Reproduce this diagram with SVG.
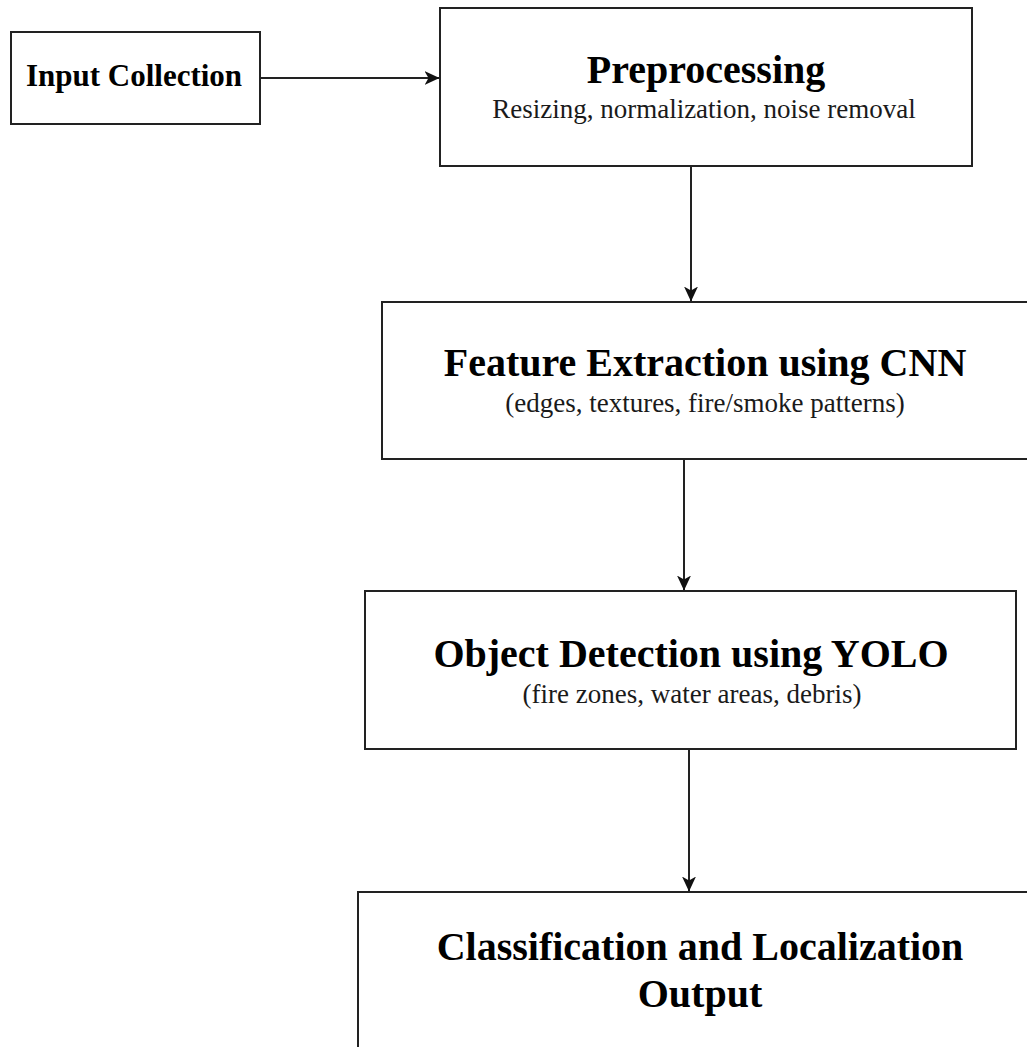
<svg xmlns="http://www.w3.org/2000/svg" width="1027" height="1047" viewBox="0 0 1027 1047">
  <style>
    .box { fill: #ffffff; stroke: #222222; stroke-width: 2; }
    .title { font-family: "Liberation Serif", "Times New Roman", serif; font-weight: bold; font-size: 40px; fill: #000000; text-anchor: middle; }
    .small-title { font-family: "Liberation Serif", "Times New Roman", serif; font-weight: bold; font-size: 31px; fill: #000000; text-anchor: middle; }
    .sub { font-family: "Liberation Serif", "Times New Roman", serif; font-size: 27px; fill: #1a1a1a; text-anchor: middle; }
    .edge { fill: none; stroke: #222222; stroke-width: 2; }
  </style>
  <defs>
    <marker id="arrow" viewBox="0 0 15 14" refX="14.5" refY="7" markerWidth="15" markerHeight="14" markerUnits="userSpaceOnUse" orient="auto">
      <path d="M0,0 L15,7 L0,14 L4,7 Z" fill="#111111"/>
    </marker>
  </defs>
  <rect width="1027" height="1047" fill="#ffffff"/>

  <g id="connectors">
    <line class="edge" x1="260" y1="78" x2="439" y2="78" marker-end="url(#arrow)"/>
    <line class="edge" x1="691" y1="166" x2="691" y2="301" marker-end="url(#arrow)"/>
    <line class="edge" x1="684" y1="459" x2="684" y2="590" marker-end="url(#arrow)"/>
    <line class="edge" x1="689" y1="749" x2="689" y2="891" marker-end="url(#arrow)"/>
  </g>

  <g id="node-input">
    <rect class="box" x="11" y="32" width="249" height="92"/>
    <text class="small-title" x="134" y="86">Input Collection</text>
  </g>

  <g id="node-preprocessing">
    <rect class="box" x="440" y="8" width="532" height="158"/>
    <text class="title" x="706" y="83">Preprocessing</text>
    <text class="sub" x="704" y="118">Resizing, normalization, noise removal</text>
  </g>

  <g id="node-feature">
    <rect class="box" x="382" y="302" width="650" height="157"/>
    <text class="title" x="705" y="376">Feature Extraction using CNN</text>
    <text class="sub" x="705" y="412">(edges, textures, fire/smoke patterns)</text>
  </g>

  <g id="node-detection">
    <rect class="box" x="365" y="591" width="651" height="158"/>
    <text class="title" x="691" y="667">Object Detection using YOLO</text>
    <text class="sub" x="692" y="703">(fire zones, water areas, debris)</text>
  </g>

  <g id="node-output">
    <rect class="box" x="358" y="892" width="690" height="170"/>
    <text class="title" x="700" y="960">Classification and Localization</text>
    <text class="title" x="700" y="1007">Output</text>
  </g>
</svg>
